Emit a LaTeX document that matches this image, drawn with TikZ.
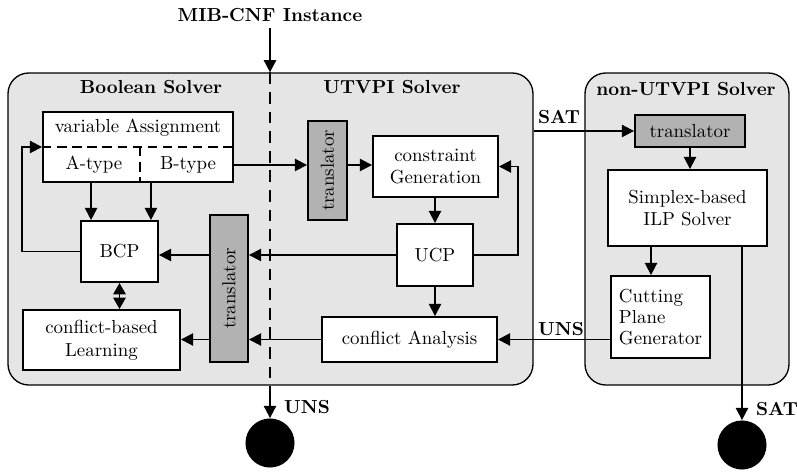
\documentclass[tikz,border=0pt]{standalone}
\usetikzlibrary{arrows.meta,calc,fit}
\begin{document}
\begin{tikzpicture}[x=0.53pt,y=-0.53pt,
 cont/.style={draw, line width=0.7pt, fill=black!10, rounded corners=11pt, inner sep=0pt},
 box/.style={draw, line width=1pt, fill=white, inner sep=0pt},
 trans/.style={draw, line width=1pt, fill=black!30, inner sep=0pt},
 txt/.style={label={[align=center]center:#1}},
 arr/.style={line width=1pt, -{Triangle[length=6.5pt,width=6.5pt]}},
 darr/.style={line width=1pt, {Triangle[length=6pt,width=6.5pt]}-{Triangle[length=6pt,width=6.5pt]}},
 lab/.style={font=\bfseries},
 term/.style={circle, fill=black, minimum size=26pt, inner sep=0pt},
 midline/.style={line width=1.1pt, dash pattern=on 6.2pt off 4.2pt},
 inline/.style={line width=1pt, dash pattern=on 5pt off 3pt}]
\useasboundingbox (0,0) rectangle (797,473);
% containers
\node[cont, fit={(8,73) (533,385)}] (main) {};
\node[cont, fit={(585,73) (789,385)}] (nonu) {};
\node[lab] (bs) at (151,87) {Boolean Solver};
\node[lab] (us) at (392,87) {UTVPI Solver};
\node[lab] (ns) at (686,89) {non-UTVPI Solver};
\node[lab] (title) at (270,15) {MIB-CNF Instance};
% boxes
\node[box, fit={(43,112) (233,182)}] (asg) {};
\node (vat) at (138,128) {variable Assignment};
\node (at) at (94,165) {A-type};
\node (bt) at (188,165) {B-type};
\draw[inline] (asg.west) -- (asg.east);
\draw[inline] ($(asg.west)!0.51!(asg.east)$) -- ($(asg.south west)!0.51!(asg.south east)$);
\node[box, fit={(81,221) (158,282)}, txt={BCP}] (bcp) {};
\node[box, fit={(23,310) (180,370)}, txt={conflict-based\\Learning}] (lrn) {};
\node[trans, fit={(210,215) (248,362)}, label={[rotate=90]center:translator}] (tr2) {};
\node[trans, fit={(308,121) (347,220)}, label={[rotate=90]center:translator}] (tr1) {};
\node[box, fit={(373,136) (498,197)}, txt={constraint\\Generation}] (gen) {};
\node[box, fit={(397,224) (473,286)}, txt={UCP}] (ucp) {};
\node[box, fit={(322,317) (497,362)}, txt={conflict Analysis}] (ana) {};
\node[trans, fit={(635,115) (745,147)}, txt={translator}] (tr3) {};
\node[box, fit={(608,170) (767,246)}, txt={Simplex-based\\ILP Solver}] (smp) {};
\node[box, fit={(611,276) (710,358)}, label={[align=left]center:Cutting\\[-1pt]Plane\\[-1pt]Generator}] (cut) {};
\node[term] (unsc) at (270,443) {};
\node[term] (satc) at (742,445) {};
% labels
\node[lab] (sat1) at (559,117) {SAT};
\node[lab] (uns1) at (561,329) {UNS};
\node[lab] (uns2) at (307,407) {UNS};
\node[lab] (sat2) at (777,409) {SAT};
% connectors
\draw[arr] (title.south) -- (title.south |- main.north);
\draw[midline] (title.south |- main.north) -- (title.south |- main.south);
\draw[arr] (title.south |- main.south) -- (unsc.north);
\coordinate (b1) at ($(bcp.north west)+(11,0)$);
\coordinate (b2) at ($(bcp.north east)+(-8,0)$);
\draw[arr] (b1 |- asg.south) -- (b1);
\draw[arr] (b2 |- asg.south) -- (b2);
\draw[arr] (bcp.west) -- ++(-58,0) |- (asg.west);
\draw[darr] (bcp.south) -- (bcp.south |- lrn.north);
\draw[arr] (bt -| asg.east) -- (bt -| tr1.west);
\draw[arr] (bt -| tr1.east) -- (bt -| gen.west);
\draw[arr] (ucp.north |- gen.south) -- (ucp.north);
\draw[arr] (ucp.east) -- ++(44,0) |- (gen.east);
\draw[arr] (ucp.west) -- (ucp.west -| tr2.east);
\draw[arr] (ucp.west -| tr2.west) -- (ucp.west -| bcp.east);
\draw[arr] (ucp.south) -- (ucp.south |- ana.north);
\draw[arr] (ana.west) -- (ana.west -| tr2.east);
\draw[arr] (ana.west -| tr2.west) -- (ana.west -| lrn.east);
\draw[arr] (main.east |- tr3.west) -- (tr3.west);
\draw[arr] (tr3.south) -- (tr3.south |- smp.north);
\coordinate (c1) at ($(cut.north)+(-9.5,0)$);
\draw[arr] (c1 |- smp.south) -- (c1);
\draw[arr] (satc.north |- smp.south) -- (satc.north);
\draw[arr] (cut.west |- ana.east) -- (ana.east);
\end{tikzpicture}
\end{document}
